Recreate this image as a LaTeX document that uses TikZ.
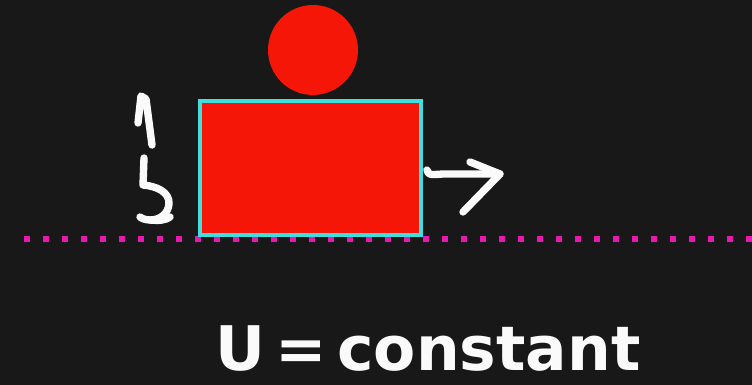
\documentclass[tikz,border=0pt]{standalone}
\usepackage{xcolor}
\usepackage{fontspec}
\setmainfont{DejaVu Sans}
\usepackage{tikz}
\usetikzlibrary{positioning, calc}
\definecolor{bgdark}{RGB}{24,24,24}
\definecolor{ballred}{RGB}{245,22,8}
\definecolor{edgecyan}{RGB}{64,222,222}
\definecolor{floormag}{RGB}{232,24,176}
\definecolor{chalk}{RGB}{250,250,250}
\tikzset{
  ball/.style={circle, fill=ballred, minimum size=1.8cm, inner sep=0pt},
  block/.style={rectangle, draw=edgecyan, fill=ballred,
    minimum width=4.42cm, minimum height=2.68cm, inner sep=0pt, line width=2.2pt},
  hand/.style={draw=chalk, line width=4.2pt, line cap=round, line join=round},
  floor/.style={draw=floormag, line width=3pt, dash pattern=on 0.12cm off 0.26cm},
  caption/.style={text=chalk, font=\fontsize{35}{40}\selectfont\bfseries, inner sep=0pt}
}

\begin{document}
\begin{tikzpicture}[x=0.02cm, y=-0.02cm]
  \fill[bgdark] (0,0) rectangle (752,385);
  \useasboundingbox (0,0) rectangle (752,385);

  % Floor
  \coordinate (floorL) at (24,239);
  \coordinate (floorR) at (752,239);
  \draw[floor] (floorL) -- (floorR);

  % Block and ball
  \node[block] (box) at (310.5,168) {};
  \node[ball] (sphere) at (313,50) {};

  % Horizontal motion
  \coordinate (tipR) at (500,174);
  \draw[hand] ($(box.east)+(4,2)$) .. controls ($(box.east)+(6,7)$) .. ($(box.east)+(20,6)$) -- (tipR);
  \draw[hand] ($(tipR)+(-30,-12)$) -- (tipR) -- ($(tipR)+(-37,38)$);

  % Vertical motion
  \coordinate (tipL) at (141,96);
  \draw[hand] (138,123) -- (tipL) -- (146,99) -- (152,145);
  \draw[hand] (144,158) -- (143,185)
    .. controls (156,186) and (170,192) .. (169,204)
    .. controls (168,214) and (160,220) .. (150,220)
    .. controls (145,220) and (141,218) .. (140,217);
  \draw[hand] (150,220) .. controls (160,221) and (166,220) .. (170,217);

  % Caption
  \node[caption] (energy) at (428,349) {U\,=\,constant};
\end{tikzpicture}
\end{document}
